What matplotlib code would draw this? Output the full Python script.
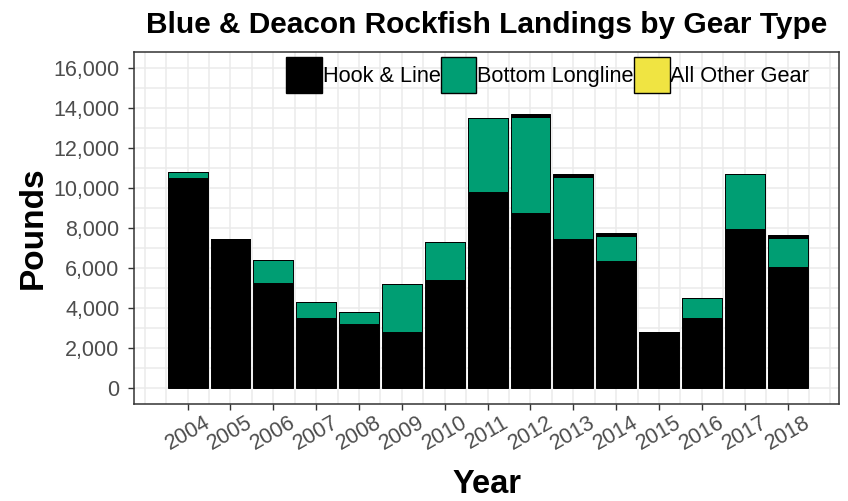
import numpy as np
from matplotlib import pyplot as plt
from matplotlib.patches import Patch
from matplotlib.ticker import FuncFormatter, MultipleLocator
from matplotlib.transforms import ScaledTranslation

plt.rcParams['font.family'] = ['Liberation Sans', 'DejaVu Sans']

years = np.arange(2004, 2019)
# pounds landed
hook_line = [10480, 7450, 5230, 3480, 3180, 2780, 5420, 9780, 8770, 7450,
             6330, 2800, 3480, 7950, 6030]
longline = [300, 0, 1190, 820, 620, 2430, 1900, 3720, 4800, 3090,
            1280, 0, 1020, 2730, 1460]
# small extra hook & line records sitting on top of the stack
hook_line_extra = [0, 0, 0, 0, 0, 0, 0, 0, 140, 140, 140, 0, 0, 0, 140]
other_gear = [0] * 15

GREEN = '#009E73'
YELLOW = '#F0E442'

fig = plt.figure(figsize=(8.48, 5.01), dpi=100)
ax = fig.add_axes([134 / 848, 1 - 404 / 501, 705 / 848, 352 / 501])

hl = np.array(hook_line)
ll = np.array(longline)
ex = np.array(hook_line_extra)
w = 0.93
ax.bar(years, hl, width=w, color='black', edgecolor='black', lw=0.7, zorder=3)
ax.bar(years, ll, bottom=hl, width=w, color=GREEN, edgecolor='black',
       lw=0.7, zorder=3)
ax.bar(years, ex, bottom=hl + ll, width=w, color='black', edgecolor='black',
       lw=0.7, zorder=3)
ax.bar(years, other_gear, bottom=hl + ll + ex, width=w, color=YELLOW,
       edgecolor='black', lw=0.7, zorder=3)

ax.set_xlim(2002.75, 2019.2)
ax.set_ylim(-800, 16800)
ax.set_xticks(years)
ax.set_xticklabels([str(y) for y in years], rotation=30, ha='center')
shift = ScaledTranslation(5 / 100, -2 / 100, fig.dpi_scale_trans)
for lab in ax.get_xticklabels():
    lab.set_transform(lab.get_transform() + shift)
ax.xaxis.set_minor_locator(MultipleLocator(0.5))
ax.set_yticks(np.arange(0, 16001, 2000))
ax.yaxis.set_minor_locator(MultipleLocator(1000))
ax.yaxis.set_major_formatter(FuncFormatter(lambda v, p: '{:,.0f}'.format(v)))

# grid, including the lines outside the labelled years
for gx in np.arange(2003, 2019.01, 0.5):
    ax.axvline(gx, color='#EBEBEB', lw=1.1, zorder=0)
for gy in np.arange(0, 16001, 1000):
    ax.axhline(gy, color='#EBEBEB', lw=1.1, zorder=0)

ax.tick_params(axis='both', which='major', length=4, width=1,
               color='#333333', labelcolor='#4D4D4D', labelsize=15.5)
ax.tick_params(axis='y', pad=6.5)
ax.tick_params(axis='x', pad=2)
ax.tick_params(axis='both', which='minor', length=0)
for s in ax.spines.values():
    s.set_color('#333333')
    s.set_linewidth(1.1)

handles = [Patch(facecolor='black', edgecolor='black', lw=1),
           Patch(facecolor=GREEN, edgecolor='black', lw=1),
           Patch(facecolor=YELLOW, edgecolor='black', lw=1)]
ax.legend(handles, ['Hook & Line', 'Bottom Longline', 'All Other Gear'],
          ncol=3, loc='upper left', bbox_to_anchor=(152 / 705, 0.986),
          frameon=False, fontsize=15.7, handlelength=1.65, handleheight=2.2,
          handletextpad=0.03, columnspacing=0.0, borderpad=0,
          borderaxespad=0)

fig.text(486.5 / 848, 1 - 33 / 501,
         'Blue & Deacon Rockfish Landings by Gear Type',
         ha='center', va='baseline', fontsize=21.5, fontweight='bold')
fig.text(33 / 848, 1 - 228 / 501, 'Pounds', rotation=90, ha='center',
         va='center', fontsize=24, fontweight='bold')
fig.text(486.5 / 848, 1 - 493 / 501, 'Year', ha='center', va='baseline',
         fontsize=23.5, fontweight='bold')

fig.savefig('out.png', dpi=100)
